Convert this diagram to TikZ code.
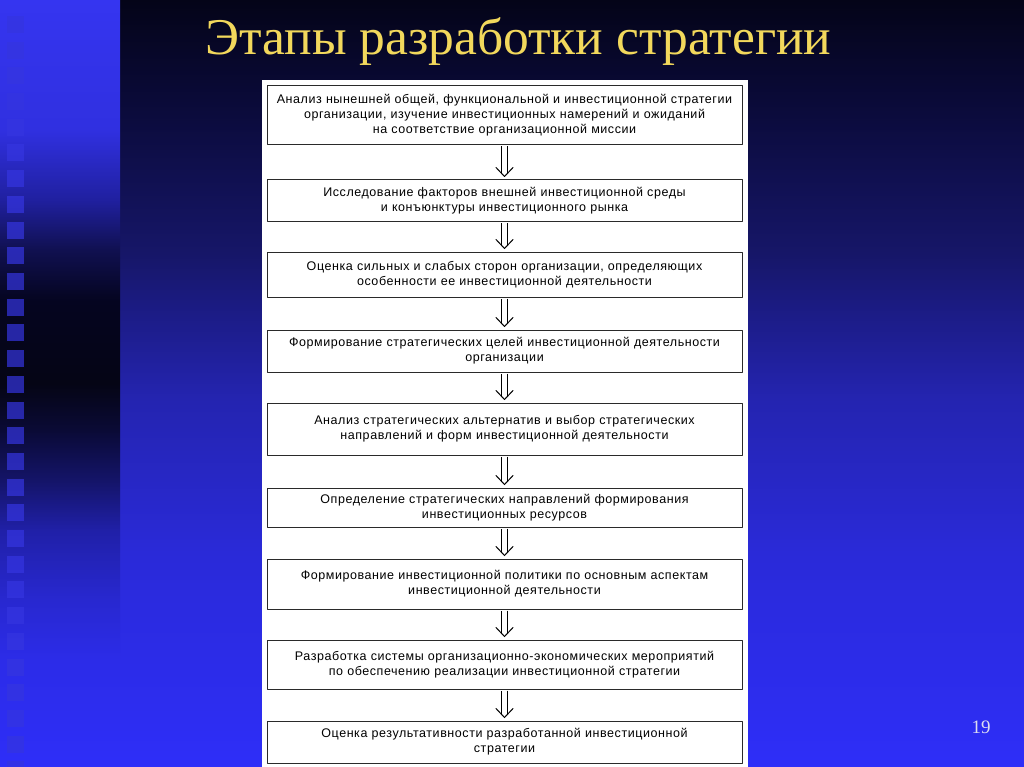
\documentclass[tikz,border=0pt]{standalone}
\usepackage{fontspec}
\setmainfont{Liberation Sans}
\newfontfamily\titlefont{Liberation Serif}
\newfontfamily\boxfont[LetterSpace=4.5,WordSpace=1.5]{Liberation Sans}
\usetikzlibrary{calc}
\definecolor{bgtop}{HTML}{040418}
\definecolor{bgmidA}{HTML}{0A0A38}
\definecolor{bgmidB}{HTML}{161668}
\definecolor{bgmidC}{HTML}{2424B0}
\definecolor{bgmidD}{HTML}{2A2AD8}
\definecolor{bgbot}{HTML}{2E2EF8}
\definecolor{stripA}{HTML}{3535F0}
\definecolor{stripB}{HTML}{3030E0}
\definecolor{stripC}{HTML}{2020A0}
\definecolor{stripD}{HTML}{101050}
\definecolor{stripE}{HTML}{050520}
\definecolor{stripF}{HTML}{050515}
\definecolor{stripG}{HTML}{0A0A35}
\definecolor{stripH}{HTML}{141468}
\definecolor{stripI}{HTML}{2020A8}
\definecolor{stripJ}{HTML}{2828D0}
\definecolor{stripK}{HTML}{2C2CE8}
\definecolor{squarecol}{HTML}{3535E0}
\definecolor{titlegold}{HTML}{F2D85C}
\definecolor{boxline}{HTML}{2A2A2A}
\definecolor{pagenum}{HTML}{DDDDF0}
\pgfdeclareverticalshading{mainbg}{100bp}{color(0bp)=(bgbot); color(25bp)=(bgbot);
  color(39bp)=(bgmidD); color(49bp)=(bgmidC); color(58.5bp)=(bgmidB);
  color(68.5bp)=(bgmidA); color(75bp)=(bgtop); color(100bp)=(bgtop)}
\pgfdeclareverticalshading{stripbg}{100bp}{color(0bp)=(bgbot); color(25bp)=(bgbot);
  color(32bp)=(stripK); color(35.9bp)=(stripJ); color(40.4bp)=(stripI);
  color(43.7bp)=(stripH); color(47bp)=(stripG); color(50bp)=(stripF);
  color(55.4bp)=(stripE); color(58.7bp)=(stripD); color(62bp)=(stripC);
  color(66.5bp)=(stripB); color(75bp)=(stripA); color(100bp)=(stripA)}
\begin{document}
\begin{tikzpicture}[x=1pt, y=-1pt, line cap=round, line join=round,
  stage/.style={draw=boxline, fill=white, line width=1pt, minimum width=475pt,
    text width=470pt, align=center, inner sep=0pt, text=black,
    font=\boxfont\fontsize{12.5}{15}\selectfont},
  flow/.style={draw=black, double, double distance=4.5pt, line width=0.9pt,
    line cap=butt, shorten >=6pt, shorten <=1pt},
  flowhead/.style={draw=black, line width=1pt}]
\useasboundingbox (0,0) rectangle (1024,767);
\fill[shading=mainbg] (0,0) rectangle (1024,767);
\fill[shading=stripbg] (0,0) rectangle (120,767);
\foreach \i in {0,...,29}
  \fill[squarecol, opacity=0.7] (7,{16+25.7*\i}) rectangle +(17,17);
\node[anchor=base west, inner sep=0pt, text=titlegold,
  font=\titlefont\fontsize{51.5}{58}\selectfont] (title) at (205,55) {Этапы разработки стратегии};
\fill[white] (262,80) rectangle (748,767);
\node[stage, minimum height=59pt] (s1) at (504.5,115.5)
  {Анализ нынешней общей, функциональной и инвестиционной стратегии\\организации, изучение инвестиционных намерений и ожиданий\\на соответствие организационной миссии};
\node[stage, minimum height=42pt] (s2) at (504.5,201)
  {Исследование факторов внешней инвестиционной среды\\и конъюнктуры инвестиционного рынка};
\node[stage, minimum height=45pt] (s3) at (504.5,274.5)
  {Оценка сильных и слабых сторон организации, определяющих\\особенности ее инвестиционной деятельности};
\node[stage, minimum height=42pt] (s4) at (504.5,351)
  {Формирование стратегических целей инвестиционной деятельности\\организации};
\node[stage, minimum height=52pt] (s5) at (504.5,429)
  {Анализ стратегических альтернатив и выбор стратегических\\направлений и форм инвестиционной деятельности};
\node[stage, minimum height=39pt] (s6) at (504.5,507.5)
  {Определение стратегических направлений формирования\\инвестиционных ресурсов};
\node[stage, minimum height=50pt] (s7) at (504.5,584)
  {Формирование инвестиционной политики по основным аспектам\\инвестиционной деятельности};
\node[stage, minimum height=49pt] (s8) at (504.5,664.5)
  {Разработка системы организационно-экономических мероприятий\\по обеспечению реализации инвестиционной стратегии};
\node[stage, minimum height=42pt] (s9) at (504.5,742)
  {Оценка результативности разработанной инвестиционной\\стратегии};
\foreach \a/\b in {s1/s2,s2/s3,s3/s4,s4/s5,s5/s6,s6/s7,s7/s8,s8/s9}{
  \draw[flow] (\a.south) -- (\b.north);
  \draw[flowhead] ($(\b.north)+(-8.5,-12)$) -- ($(\b.north)+(0,-3)$) -- ($(\b.north)+(8.5,-12)$);
}
\node[text=pagenum, inner sep=0pt, font=\titlefont\fontsize{19}{22}\selectfont] (page) at (981,727) {19};
\end{tikzpicture}
\end{document}
